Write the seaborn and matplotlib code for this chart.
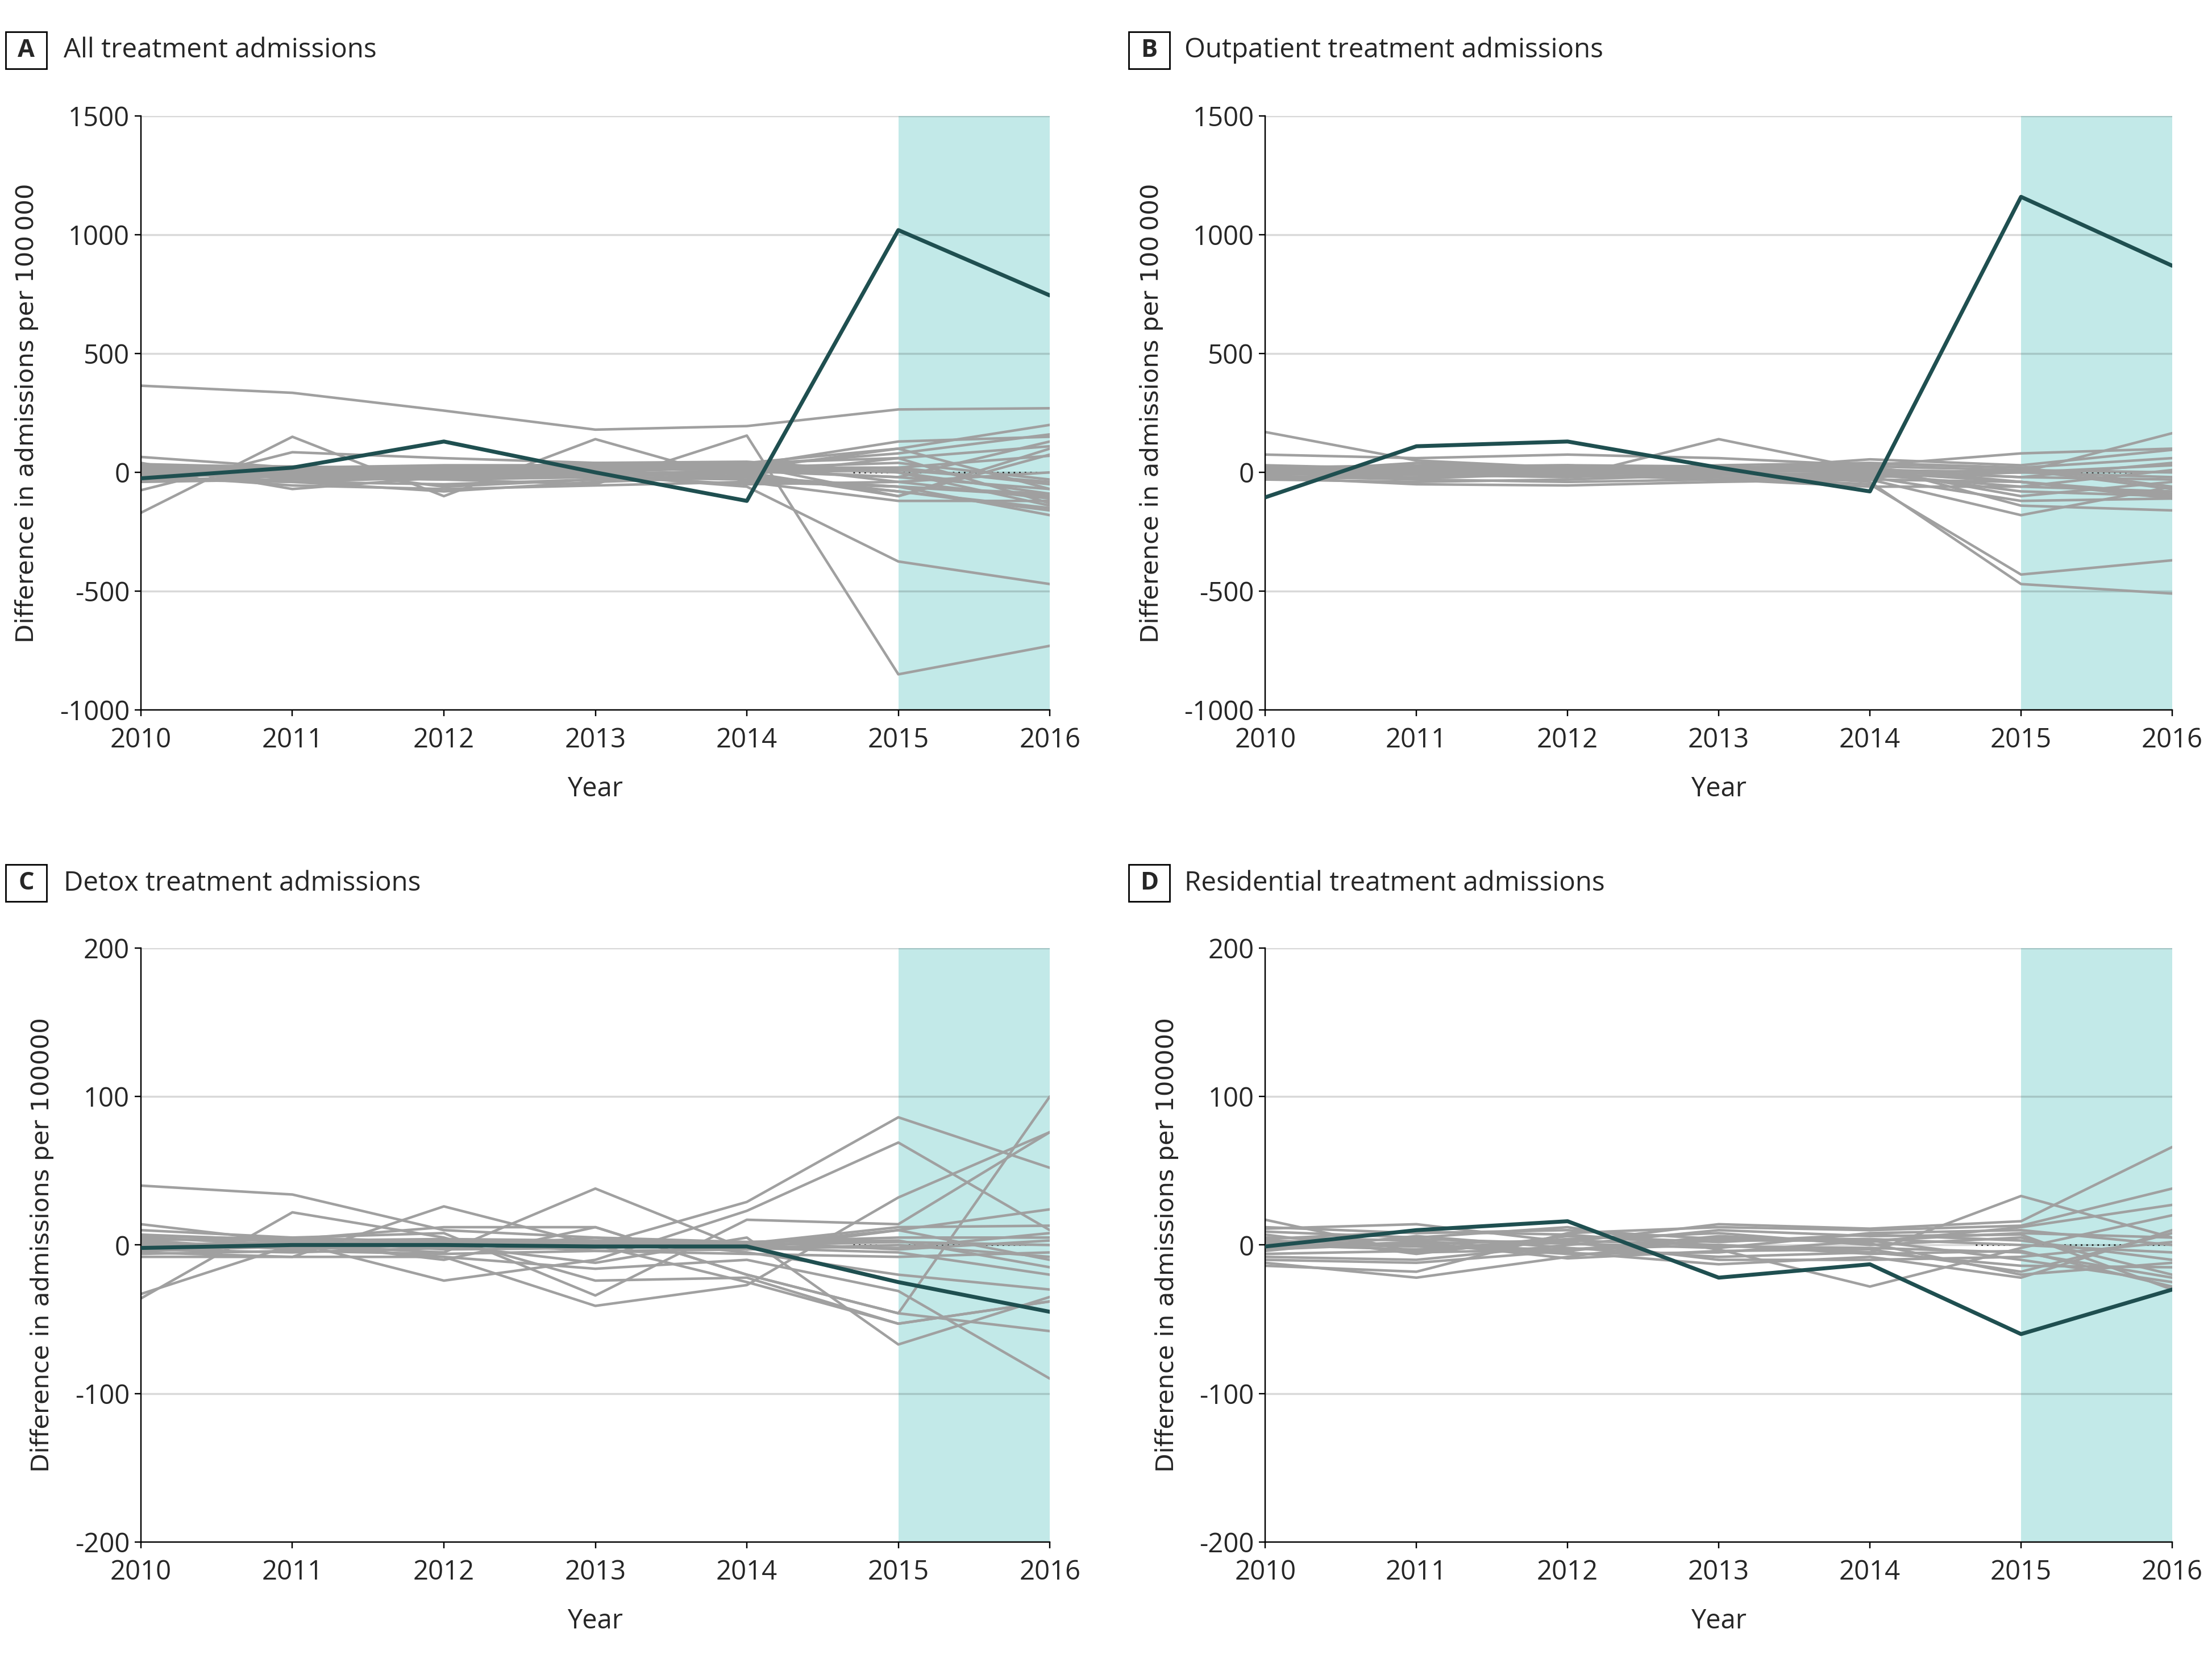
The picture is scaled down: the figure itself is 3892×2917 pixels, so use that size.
import numpy as np
import pandas as pd
import matplotlib
matplotlib.use("Agg")
import matplotlib.pyplot as plt
from matplotlib.patches import Rectangle
import seaborn as sns

# --- data ---
years = [2010, 2011, 2012, 2013, 2014, 2015, 2016]

# A: all treatment admissions
all_treated = [-25, 20, 130, 0, -120, 1020, 745]
all_donors = [
    [365, 335, 260, 180, 195, 265, 270],
    [10, -20, -30, -50, 155, -850, -730],
    [-30, -40, -20, -10, -60, -375, -470],
    [-170, 150, -100, 140, -40, -60, -90],
    [65, 20, -60, -30, -10, 60, 110],
    [-75, 85, 60, 40, 30, 130, 150],
    [40, -70, -20, 30, 40, 100, 200],
    [30, 10, 20, 10, 30, 80, 160],
    [20, -10, 0, -10, 10, -20, 130],
    [10, -40, -80, -40, -20, -80, -150],
    [0, -20, -30, -20, 0, -100, 75],
    [-10, -55, -70, -55, -40, -120, -120],
    [-20, 0, 10, 20, 20, 40, -30],
    [-40, -30, -20, 0, -20, -60, -180],
    [5, 10, 15, 5, 20, 20, -50],
    [15, -5, 10, 0, 25, 0, -90],
    [25, 5, 5, 15, 35, -40, -110],
    [-5, -20, -10, -5, 5, -20, -70],
    [35, 20, 30, 30, 40, 60, -130],
    [-15, -10, -15, -20, -30, -60, -100],
    [10, 15, 25, 20, 10, 20, 70],
    [-25, -40, -50, -30, -10, -80, -160],
    [20, 0, -5, 10, 15, 100, -70],
    [-10, 5, 20, 25, 30, -100, 100],
    [30, 25, 15, 40, 45, 0, -140],
    [-35, -15, -25, -15, -50, -40, 0],
    [5, -25, 5, -5, 0, 10, -40],
]

# B: outpatient treatment admissions
out_treated = [-105, 110, 130, 20, -80, 1160, 870]
out_donors = [
    [170, 50, 20, 10, 0, -40, -100],
    [75, 60, 75, 60, 30, 80, 100],
    [20, 0, -20, 140, 10, 0, 165],
    [10, 20, 30, 0, -40, -470, -510],
    [-10, 0, 10, -20, -50, -430, -370],
    [0, 40, 20, 10, 55, 30, 95],
    [-20, -50, -55, -40, -30, -180, -60],
    [25, 10, 0, 20, 30, -140, -160],
    [-30, -40, -30, -10, -20, -120, -110],
    [15, 20, 10, 30, 40, 20, 60],
    [5, -10, -20, 0, 10, -20, 40],
    [-5, 0, 5, -5, -10, -60, -80],
    [20, 30, 20, 10, 0, -80, -100],
    [-15, -30, -40, -30, -20, 0, -20],
    [10, 5, 15, 5, 20, -40, -110],
    [0, -5, -10, 10, 25, 10, 0],
    [-25, -20, 0, 20, 15, -100, -40],
    [30, 15, 25, 15, 35, 20, -60],
    [-10, 10, -10, -30, -60, -60, 10],
    [5, 25, 30, 25, 5, -20, -30],
    [-20, -10, -15, -20, -30, -40, -90],
    [15, -25, -5, 0, 10, 0, 30],
    [0, 15, 5, -10, -5, 10, -70],
]

# C: detox treatment admissions
detox_treated = [-2, 0, 0, -1, -1, -25, -45]
detox_donors = [
    [40, 34, 10, 5, -5, -20, -30],
    [14, 2, -10, 12, -20, -46, 100],
    [-33, 0, -8, -41, -27, 32, 76],
    [-36, 22, 5, -24, -22, -53, -38],
    [5, 0, -5, 38, -3, 10, 24],
    [-5, -8, 26, 0, 29, 86, 52],
    [0, 2, -24, -10, 23, 69, 10],
    [10, 5, 8, -34, 17, 14, 76],
    [-8, -8, -8, -16, -10, -31, -90],
    [3, -3, 0, -12, 5, -67, -35],
    [6, 4, 12, 12, -20, -46, -58],
    [2, -2, 2, 0, -25, -53, -38],
    [-2, 1, 3, 2, 1, 12, 13],
    [4, 3, -3, -2, 0, 10, -10],
    [-3, -5, -2, 5, 2, 3, -15],
    [1, 0, 1, -1, -2, -5, -20],
    [7, 3, 4, 3, 2, 5, 5],
    [-6, -4, -6, -4, -6, -8, -5],
    [0, 1, -1, 1, 0, 2, 0],
    [-1, -2, 0, 0, 2, -3, 3],
    [3, 5, 2, -4, -3, 0, -8],
    [-4, -1, 3, 1, -1, -2, 8],
]

# D: residential treatment admissions
resid_treated = [-1, 10, 16, -22, -13, -60, -30]
resid_donors = [
    [17, -5, -3, 0, -5, 33, 5],
    [11, 14, 2, 14, 11, 16, 66],
    [-14, -18, 8, 12, 10, 13, 38],
    [-12, -22, -8, 5, 2, 12, 27],
    [9, 5, 12, -3, -28, -2, 20],
    [5, 3, -5, -13, -8, -22, 10],
    [-8, -10, 0, 10, 6, 7, -30],
    [3, 0, -6, -5, 3, -10, -25],
    [0, -3, 4, 8, 0, 5, -20],
    [-4, 6, -2, -8, -5, -14, -15],
    [7, -6, 6, 2, 7, 3, -10],
    [-2, 2, -9, -4, -3, -18, 8],
    [12, 8, 10, 4, 4, 0, -5],
    [-6, -4, 2, -10, -10, -8, 2],
    [1, -1, -3, 3, 3, 8, 5],
    [4, 9, 7, -1, -2, -5, -22],
    [-10, -12, -4, 6, 1, -20, -12],
    [2, 4, 1, -2, 8, 10, 0],
    [-3, 1, 3, 0, -6, -4, -28],
]

panel_letters = ["A", "B", "C", "D"]
panel_titles = ["All treatment admissions", "Outpatient treatment admissions",
                "Detox treatment admissions", "Residential treatment admissions"]
ylabels = ["Difference in admissions per 100\u2009000", "Difference in admissions per 100\u2009000",
           "Difference in admissions per 100000", "Difference in admissions per 100000"]
big_ticks = [1500, 1000, 500, 0, -500, -1000]
small_ticks = [200, 100, 0, -100, -200]

GRAY = "#a0a0a0"
DARK = "#1f4f50"
SHADE = "#c2e9e8"
TXT_FONT = "Open Sans"
LAB_FONT = "DejaVu Sans"


def long_form(donors):
    rows = []
    for i, vals in enumerate(donors):
        for yr, v in zip(years, vals):
            rows.append({"unit": i, "year": yr, "value": v})
    return pd.DataFrame(rows)


sns.set_style("white")
plt.rcParams["font.family"] = [TXT_FONT, "DejaVu Sans"]

fig = plt.figure(figsize=(3892 / 250, 2917 / 250), dpi=250)

# axes rectangles [left, bottom, width, height] in figure fraction
rects = [
    [0.0637, 0.5718, 0.4109, 0.3582],
    [0.5720, 0.5718, 0.4100, 0.3582],
    [0.0637, 0.0700, 0.4109, 0.3582],
    [0.5720, 0.0700, 0.4100, 0.3582],
]
box_x = [0.0118, 0.5195, 0.0118, 0.5195]
title_x = [0.0288, 0.5355, 0.0288, 0.5355]
title_y = [0.9698, 0.9698, 0.4673, 0.4673]

panels = [
    (all_treated, all_donors, big_ticks),
    (out_treated, out_donors, big_ticks),
    (detox_treated, detox_donors, small_ticks),
    (resid_treated, resid_donors, small_ticks),
]

for k, (treated, donors, ticks) in enumerate(panels):
    ax = fig.add_axes(rects[k])
    ax.set_axisbelow(True)
    ax.axvspan(2015, 2016, color=SHADE, lw=0, zorder=0.2)

    # dotted zero reference in the post period
    ax.plot([2014.7, 2016], [0, 0], color="#222222", lw=0.8, ls=(0, (1, 2.5)), zorder=1)

    df = long_form(donors)
    sns.lineplot(data=df, x="year", y="value", units="unit", estimator=None,
                 color=GRAY, lw=1.3, ax=ax, zorder=2, legend=False)
    sns.lineplot(x=years, y=treated, color=DARK, lw=2.0, ax=ax, zorder=3)

    ax.set_xlim(2010, 2016)
    ax.set_ylim(min(ticks), max(ticks))
    ax.set_xticks(years)
    ax.set_yticks(ticks)
    ax.set_xticklabels([str(y) for y in years])
    ax.set_yticklabels([str(t) for t in ticks])
    ax.yaxis.grid(True, color="black", alpha=0.15, lw=1.0)
    ax.xaxis.grid(False)
    for s in ["top", "right"]:
        ax.spines[s].set_visible(False)
    for s in ["left", "bottom"]:
        ax.spines[s].set_color("black")
        ax.spines[s].set_linewidth(0.7)
    ax.tick_params(axis="both", which="major", direction="out", length=3.2, width=0.7,
                   color="black", labelsize=13.6, bottom=True, left=True)
    ax.tick_params(axis="x", pad=5.3)
    ax.tick_params(axis="y", pad=2.5)
    for lab in ax.get_xticklabels() + ax.get_yticklabels():
        lab.set_fontfamily(TXT_FONT)

    ax.set_xlabel("Year", fontsize=13.5, family=TXT_FONT, labelpad=11)
    ax.set_ylabel(ylabels[k], fontsize=12.5, family=LAB_FONT, labelpad=10.5)

    # boxed panel letter and title
    bw, bh = 0.0185, 0.0223
    fig.add_artist(Rectangle((box_x[k] - bw / 2, title_y[k] - bh / 2), bw, bh,
                             transform=fig.transFigure, fill=False, ec="black", lw=0.8))
    fig.text(box_x[k], title_y[k], panel_letters[k], ha="center", va="center",
             fontsize=12.5, fontweight="bold", family=TXT_FONT)
    fig.text(title_x[k], title_y[k], panel_titles[k], ha="left", va="center",
             fontsize=13.7, family=TXT_FONT)

fig.savefig("out.png", dpi=250)
